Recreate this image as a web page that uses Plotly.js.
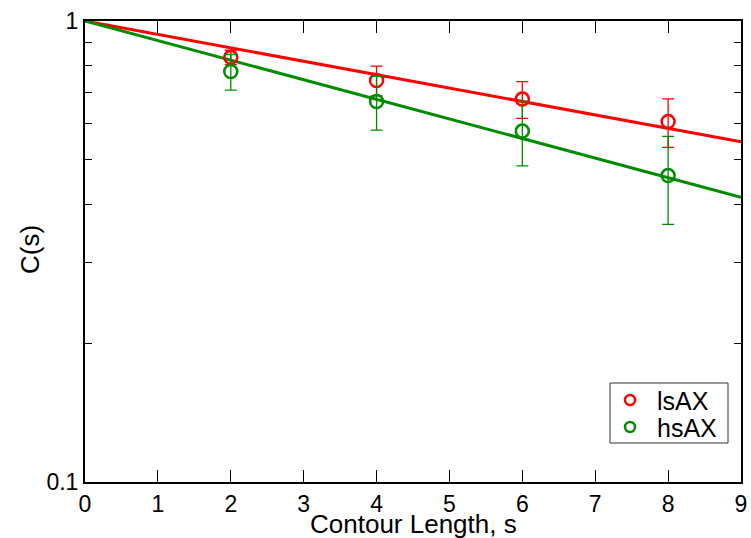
<!DOCTYPE html>
<html>
<head>
<meta charset="utf-8">
<script src="https://cdn.plot.ly/plotly-3.0.1.min.js"></script>
<style>html,body{margin:0;padding:0;background:#fff;}#chart{width:751px;height:538px;}</style>
</head>
<body>
<div id="chart"></div>
<script>
// Data
const contourLength = [2, 4, 6, 8];
const lsAX = [0.834, 0.743, 0.677, 0.605];
const lsAXErr = [0.030, 0.055, 0.062, 0.073];
const hsAX = [0.777, 0.669, 0.577, 0.462];
const hsAXErr = [0.069, 0.089, 0.092, 0.100];
const fitX = [0, 9];
const lsAXFit = [1, 0.547];
const hsAXFit = [1, 0.4146];
const seriesNames = ['lsAX', 'hsAX'];
const xTitle = 'Contour Length, s';
const yTitle = 'C(s)';
const yTickVals = [0.1, 1];
const yTickText = ['0.1', '1'];
const yMinorVals = [0.2, 0.3, 0.4, 0.5, 0.6, 0.7, 0.8, 0.9];
const xTickVals = [0, 1, 2, 3, 4, 5, 6, 7, 8, 9];

const RED = '#ff0000';
const GREEN = '#008b00';
const COLORS = [RED, GREEN];
const FONT = 'Liberation Sans, Arial, Helvetica, sans-serif';

const W = 751, H = 538;
const M = {l: 85, r: 10, t: 21, b: 56};
const PW = W - M.l - M.r, PH = H - M.t - M.b;
const px = x => (x - M.l) / PW;
const py = y => (H - M.b - y) / PH;

const traces = [
  {x: fitX, y: lsAXFit, mode: 'lines', line: {color: RED, width: 3}, showlegend: false, hoverinfo: 'skip'},
  {x: fitX, y: hsAXFit, mode: 'lines', line: {color: GREEN, width: 3}, showlegend: false, hoverinfo: 'skip'},
  {x: contourLength, y: lsAX, mode: 'markers', name: seriesNames[0], showlegend: false,
   marker: {symbol: 'circle-open', size: 13, color: RED, line: {width: 2.5, color: RED}},
   error_y: {type: 'data', array: lsAXErr, visible: true, color: RED, thickness: 1.3, width: 6}},
  {x: contourLength, y: hsAX, mode: 'markers', name: seriesNames[1], showlegend: false,
   marker: {symbol: 'circle-open', size: 13, color: GREEN, line: {width: 2.5, color: GREEN}},
   error_y: {type: 'data', array: hsAXErr, visible: true, color: GREEN, thickness: 1.3, width: 6}}
];

// Legend box drawn as shapes + annotations (tight Grace-style spacing)
const shapes = [
  {type: 'rect', xref: 'paper', yref: 'paper', x0: px(610), x1: px(728), y0: py(443), y1: py(383),
   line: {color: '#333', width: 1}, fillcolor: '#fff', layer: 'above'}
];
const annotations = [];
const entryY = [400, 427];
seriesNames.forEach((name, i) => {
  const cy = entryY[i], cx = 630, r = 5;
  shapes.push({type: 'circle', xref: 'paper', yref: 'paper',
    x0: px(cx - r), x1: px(cx + r), y0: py(cy + r), y1: py(cy - r),
    line: {color: COLORS[i], width: 2.5}, layer: 'above'});
  annotations.push({xref: 'paper', yref: 'paper', x: px(655), y: py(cy + 1), xanchor: 'left', yanchor: 'middle',
    text: name, showarrow: false, font: {family: FONT, size: 25, color: '#000'}});
});
// Axis titles (placed as in the reference, near the bottom edge)
annotations.push({xref: 'paper', yref: 'paper', x: px(414), y: py(524), xanchor: 'center', yanchor: 'middle',
  text: xTitle, showarrow: false, font: {family: FONT, size: 26, color: '#000'}});
annotations.push({xref: 'paper', yref: 'paper', x: px(30), y: py(250), xanchor: 'center', yanchor: 'middle',
  text: yTitle, textangle: -90, showarrow: false, font: {family: FONT, size: 26, color: '#000'}});

const layout = {
  width: W, height: H,
  margin: {l: M.l, r: M.r, t: M.t, b: M.b, pad: 0},
  paper_bgcolor: '#fff', plot_bgcolor: '#fff',
  font: {family: FONT, color: '#000', size: 23},
  showlegend: false,
  shapes: shapes,
  annotations: annotations,
  xaxis: {
    range: [0, 9], tickmode: 'array', tickvals: xTickVals,
    ticks: 'inside', ticklen: 12, tickwidth: 1, tickcolor: '#000',
    showline: true, linecolor: '#000', linewidth: 2, mirror: 'ticks',
    showgrid: false, zeroline: false,
    tickfont: {family: FONT, size: 23}
  },
  yaxis: {
    type: 'log', range: [-1, 0], tickmode: 'array', tickvals: yTickVals, ticktext: yTickText,
    ticks: 'inside', ticklen: 12, tickwidth: 1, tickcolor: '#000',
    showline: true, linecolor: '#000', linewidth: 2, mirror: 'ticks',
    showgrid: false, zeroline: false,
    tickfont: {family: FONT, size: 23},
    minor: {tickmode: 'array', tickvals: yMinorVals, ticks: 'inside', ticklen: 7, tickwidth: 1, tickcolor: '#000', showgrid: false}
  }
};

Plotly.newPlot('chart', traces, layout, {displayModeBar: false, staticPlot: true});
</script>
</body>
</html>
